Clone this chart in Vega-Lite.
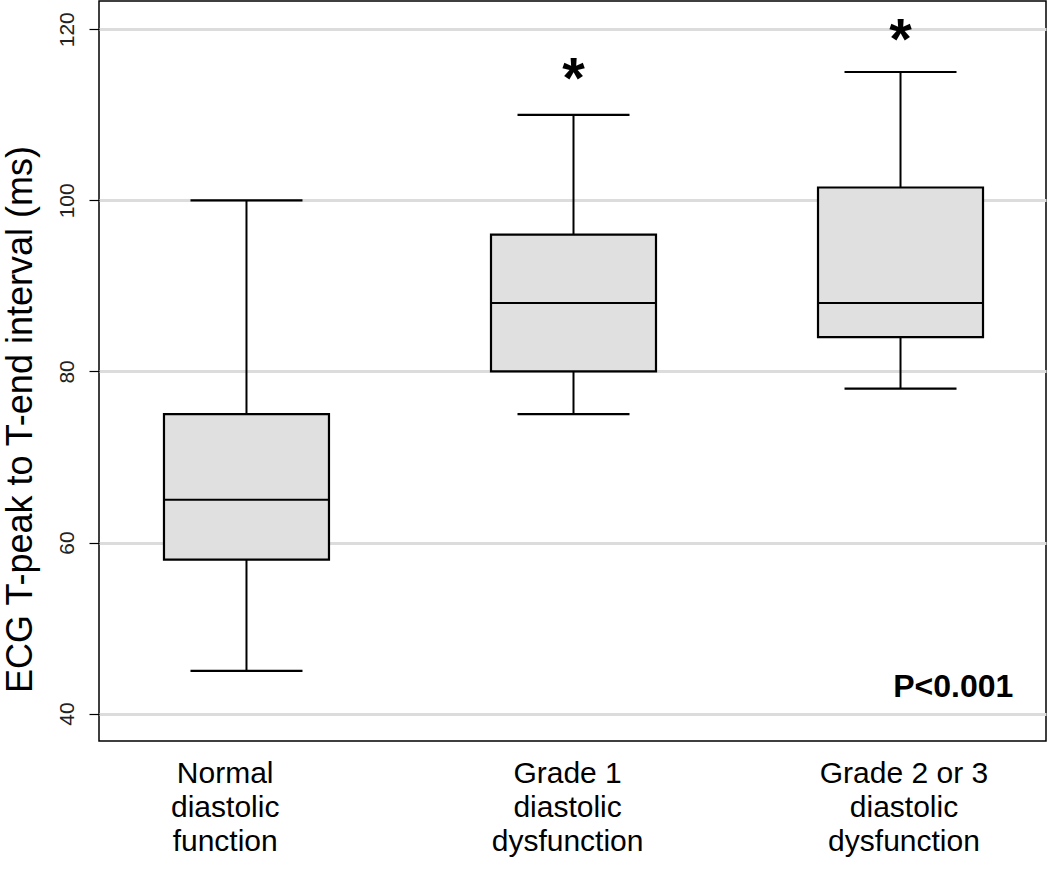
{
  "$schema": "https://vega.github.io/schema/vega-lite/v6.json",
  "width": 947,
  "height": 740,
  "autosize": {"type": "none"},
  "padding": {"left": 99, "top": 1, "right": 4, "bottom": 136},
  "background": "white",
  "config": {
    "font": "Liberation Sans",
    "view": {"stroke": "black", "strokeWidth": 1.5}
  },
  "datasets": {
    "boxes": [
      {"g": 1, "lo": 45, "q1": 58, "med": 65, "q3": 75, "hi": 100},
      {"g": 2, "lo": 75, "q1": 80, "med": 88, "q3": 96, "hi": 110},
      {"g": 3, "lo": 78, "q1": 84, "med": 88, "q3": 101.5, "hi": 115}
    ],
    "stars": [
      {"g": 2, "y": 112, "label": "*"},
      {"g": 3, "y": 116.5, "label": "*"}
    ],
    "pval": [
      {"g": 3.345, "y": 41.9, "label": "P<0.001"}
    ]
  },
  "layer": [
    {
      "data": {"name": "boxes"},
      "mark": {"type": "rule", "color": "black", "strokeWidth": 2},
      "encoding": {
        "x": {
          "field": "g", "type": "quantitative",
          "scale": {"domain": [0.5643, 3.4296], "nice": false, "zero": false},
          "axis": {
            "values": [0.9334, 1.9804, 3.0091],
            "title": null,
            "grid": false,
            "domain": false,
            "ticks": false,
            "labelFontSize": 30,
            "labelColor": "black",
            "labelLineHeight": 34,
            "labelPadding": 17,
            "labelBaseline": "top",
            "labelFlush": false,
            "labelOverlap": false,
            "labelExpr": "datum.value < 1.5 ? ['Normal', 'diastolic', 'function'] : datum.value < 2.5 ? ['Grade 1', 'diastolic', 'dysfunction'] : ['Grade 2 or 3', 'diastolic', 'dysfunction']"
          }
        },
        "y": {
          "field": "lo", "type": "quantitative",
          "scale": {"domain": [36.8, 123.3], "nice": false, "zero": false},
          "axis": {
            "values": [40, 60, 80, 100, 120],
            "title": "ECG T-peak to T-end interval (ms)",
            "titleFontSize": 36,
            "titleFontWeight": "normal",
            "titleColor": "black",
            "titleX": -79,
            "titleY": 418,
            "titleBaseline": "middle",
            "titleAlign": "center",
            "titleAngle": -90,
            "grid": true,
            "gridColor": "#dcdcdc",
            "gridWidth": 3,
            "domain": false,
            "tickColor": "black",
            "tickSize": 10,
            "tickWidth": 1.2,
            "labelAngle": -90,
            "labelFontSize": 21,
            "labelColor": "#222",
            "labelPadding": 12
          }
        },
        "y2": {"field": "hi"}
      }
    },
    {
      "data": {"name": "boxes"},
      "mark": {"type": "tick", "orient": "horizontal", "color": "black", "size": 112, "thickness": 2.2, "opacity": 1},
      "encoding": {
        "x": {"field": "g", "type": "quantitative"},
        "y": {"field": "lo", "type": "quantitative"}
      }
    },
    {
      "data": {"name": "boxes"},
      "mark": {"type": "tick", "orient": "horizontal", "color": "black", "size": 112, "thickness": 2.2, "opacity": 1},
      "encoding": {
        "x": {"field": "g", "type": "quantitative"},
        "y": {"field": "hi", "type": "quantitative"}
      }
    },
    {
      "data": {"name": "boxes"},
      "mark": {"type": "bar", "orient": "vertical", "size": 165, "fill": "#e0e0e0", "stroke": "black", "strokeWidth": 2.2, "opacity": 1},
      "encoding": {
        "x": {"field": "g", "type": "quantitative"},
        "y": {"field": "q1", "type": "quantitative"},
        "y2": {"field": "q3"}
      }
    },
    {
      "data": {"name": "boxes"},
      "mark": {"type": "tick", "orient": "horizontal", "color": "black", "size": 165, "thickness": 2.2, "opacity": 1},
      "encoding": {
        "x": {"field": "g", "type": "quantitative"},
        "y": {"field": "med", "type": "quantitative"}
      }
    },
    {
      "data": {"name": "stars"},
      "mark": {"type": "text", "fontSize": 58, "fontWeight": "bold", "color": "black", "align": "center", "baseline": "alphabetic"},
      "encoding": {
        "x": {"field": "g", "type": "quantitative"},
        "y": {"field": "y", "type": "quantitative"},
        "text": {"field": "label"}
      }
    },
    {
      "data": {"name": "pval"},
      "mark": {"type": "text", "fontSize": 32, "fontWeight": "bold", "color": "black", "align": "right", "baseline": "alphabetic"},
      "encoding": {
        "x": {"field": "g", "type": "quantitative"},
        "y": {"field": "y", "type": "quantitative"},
        "text": {"field": "label"}
      }
    }
  ]
}
